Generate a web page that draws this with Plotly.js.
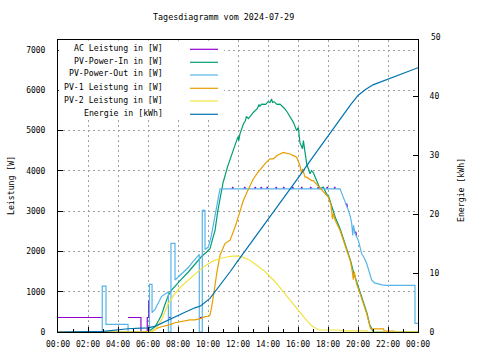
<!DOCTYPE html>
<html><head><meta charset="utf-8">
<script src="https://cdn.plot.ly/plotly-3.0.1.min.js"></script>
<style>html,body{margin:0;padding:0;background:#fff}#chart{width:480px;height:360px}</style>
</head><body><div id="chart"></div>
<script>
// ---- axis ticks ----
const tickHours = [0,2,4,6,8,10,12,14,16,18,20,22,24];
const tickLabels = ["00:00","02:00","04:00","06:00","08:00","10:00","12:00","14:00","16:00","18:00","20:00","22:00","00:00"];
const minorHours = [1,3,5,7,9,11,13,15,17,19,21,23];
const leftTicks = [0,1000,2000,3000,4000,5000,6000,7000];
const rightTicks = [0,10,20,30,40];

// ---- series (hours of day, W / kWh); AC is null where it lies under PV-Power-Out ----
const acT = [0,2.95,null,4.67,5.53,5.53,5.95,5.95,6.05,6.05,6.1,null,7.36,7.53,null,9.42,9.62,null,
 11.6,11.65,11.7,null,12.4,12.45,12.5,null,13.1,13.15,13.2,null,13.5,13.55,13.6,null,13.9,13.95,14.0,null,14.5,14.55,14.6,null,15.0,15.05,15.1,null,
 15.6,15.65,15.7,null,16.2,16.25,16.3,null,16.8,16.85,16.9,null,17.3,17.35,17.4,null,17.9,17.95,18.0,null,18.4,18.45,18.5,null,19.2,19.25,19.3,null,19.8,19.85,19.9];
const acW = [360,360,null,360,360,0,0,360,360,770,770,null,360,360,null,360,360,null,
 3555,3600,3555,null,3555,3600,3555,null,3555,3600,3555,null,3555,3600,3555,null,3555,3600,3555,null,3555,3600,3555,null,3555,3600,3555,null,
 3555,3600,3555,null,3555,3600,3555,null,3555,3600,3555,null,3555,3600,3555,null,3555,3600,3555,null,3555,3600,3555,null,3150,3190,3100,null,2450,2490,2400];

const pvInT = [0,5.95,6.1,6.3,6.47,6.7,6.9,7.1,7.36,7.6,7.8,8.2,8.69,9.1,9.58,9.9,10.13,10.3,10.47,10.65,10.8,11.0,11.3,11.69,11.9,12.0,12.05,12.13,12.36,12.5,12.55,12.7,13.02,13.3,13.4,13.45,13.58,13.85,14.0,14.13,14.24,14.3,14.4,14.6,14.8,15.1,15.3,15.47,15.7,15.91,16.02,16.13,16.3,16.36,16.42,16.47,16.58,16.8,16.9,17.02,17.24,17.47,17.69,17.91,18.02,18.2,18.36,18.5,18.8,19.0,19.24,19.5,19.69,19.8,20.13,20.35,20.58,20.8,20.9,21.0,24];
const pvInW = [0,0,30,80,130,280,420,650,915,1050,1140,1300,1490,1680,1880,1980,2070,2300,2525,3000,3350,3700,4100,4500,4700,4850,4750,4920,5165,5250,5350,5300,5450,5550,5650,5600,5660,5650,5720,5700,5785,5700,5720,5650,5660,5550,5450,5330,5200,5000,5080,4700,4550,4750,4500,4460,4175,3930,4010,3960,3760,3560,3600,3420,3390,3200,2990,2830,2570,2350,2070,1780,1500,1370,1000,750,490,160,100,0,0];

const pvOutT = [0,2.95,2.95,3.2,3.2,4.67,4.67,6.1,6.1,6.27,6.27,6.47,6.9,7.2,7.36,7.36,7.53,7.53,7.8,7.8,8.2,8.69,9.0,9.36,9.42,9.42,9.62,9.62,9.8,9.8,10.02,10.2,10.36,10.5,10.7,10.8,18.8,19.02,19.2,19.36,19.5,19.58,19.65,19.7,19.8,20.02,20.24,20.4,20.58,20.8,20.91,21.1,21.24,21.6,21.91,23.8,23.8,24];
const pvOutW = [0,0,1140,1140,190,190,0,0,1180,1180,480,560,880,960,1000,0,0,2200,2200,1290,1420,1600,1750,1900,1930,0,0,3020,3020,2050,2110,2350,2690,2950,3350,3555,3555,3350,3150,3020,2850,2690,2400,2650,2450,2280,1950,1850,1700,1450,1290,1220,1205,1170,1160,1160,215,215];

const pv1T = [0,5.58,6.3,6.58,6.9,7.36,7.8,8.25,8.8,9.13,9.5,9.8,10.0,10.13,10.25,10.42,10.47,10.6,10.8,11.13,11.47,11.8,12.1,12.36,12.7,13.02,13.3,13.58,13.85,14.13,14.36,14.6,14.8,15.02,15.2,15.47,15.69,15.91,16.13,16.24,16.3,16.47,16.58,16.91,17.02,17.3,17.58,17.8,18.02,18.2,18.3,18.36,18.45,18.8,19.0,19.24,19.5,19.6,19.69,19.75,19.9,20.13,20.35,20.58,20.8,20.85,21.7,21.75,22.4,22.45,24];
const pv1W = [0,0,20,90,130,170,230,265,300,300,330,380,390,420,630,1040,1205,1500,1905,2195,2280,2600,2950,3270,3550,3800,3950,4090,4200,4300,4300,4380,4420,4460,4440,4420,4380,4340,4130,3930,4050,3845,3845,3760,3760,3650,3515,3430,3350,3150,2800,2950,2800,2525,2300,2030,1750,1550,1300,1500,1200,960,720,460,130,80,80,20,20,0,0];

const pv2T = [0,6.13,6.47,6.9,7.36,7.8,8.2,8.69,9.1,9.58,10.0,10.36,10.8,11.2,11.47,11.9,12.3,12.8,13.2,13.69,14.1,14.58,15.0,15.47,15.8,16.13,16.5,16.9,17.36,18.8,18.85,20.58,20.65,24];
const pv2W = [0,0,50,300,710,960,1130,1290,1430,1580,1690,1765,1825,1860,1880,1890,1860,1780,1680,1535,1390,1205,1010,790,640,480,320,160,50,50,30,30,0,0];

const enT = [0,2.95,3.0,3.5,4.0,4.67,5.5,6.0,6.5,6.9,7.5,8.0,8.5,9.13,9.5,10.13,10.5,11,11.5,12,13,14,15,16,17,18,18.5,19,19.5,20,20.5,21,21.5,22,22.5,23,23.5,24];
const enK = [0,0,0.1,0.25,0.4,0.55,0.65,0.7,1.0,1.5,2.2,2.9,3.4,4.1,4.4,5.7,6.9,8.6,10.3,12.1,15.6,18.9,22.4,26.1,29.7,33.3,35.1,36.8,38.5,40.1,41.1,41.9,42.4,42.9,43.4,43.9,44.3,44.8];

const names = ["AC Leistung in [W]","PV-Power-In in [W]","PV-Power-Out in [W]","PV-1 Leistung in [W]","PV-2 Leistung in [W]","Energie in [kWh]"];
const colors = ["#9400d3","#009e73","#56b4e9","#e69f00","#f0e442","#0072b2"];

const FONT = "DejaVu Sans Mono";
function mk(x,y,i,ax){return {x:x,y:y,type:'scatter',mode:'lines',name:names[i],yaxis:ax||'y',connectgaps:false,line:{color:colors[i],width:1.2},hoverinfo:'skip'};}
const data = [mk(acT,acW,0), mk(pvInT,pvInW,1), mk(pvOutT,pvOutW,2), mk(pv1T,pv1W,3), mk(pv2T,pv2W,4), mk(enT,enK,5,'y2')];

// plot frame in px
const L=58,R=418,T=40,B=332;
const px = x => (x-L)/(R-L);
const py = y => (B-y)/(B-T);

const shapes = [{type:'rect',xref:'paper',yref:'paper',x0:px(58.8),x1:px(224),y0:py(118),y1:py(40.8),fillcolor:'#fff',line:{width:0},layer:'above'}];
const annotations = [];
const legY = [49.3,62.3,75,88.3,101,114.3];
names.forEach((n,i)=>{
  shapes.push({type:'line',xref:'paper',yref:'paper',x0:px(190),x1:px(218),y0:py(legY[i]),y1:py(legY[i]),line:{color:colors[i],width:1.2},layer:'above'});
  annotations.push({xref:'paper',yref:'paper',x:px(165),y:py(legY[i]-1.5),xanchor:'right',yanchor:'middle',text:n,showarrow:false,font:{family:FONT,size:8.2,color:'#000'}});
});
annotations.push({xref:'paper',yref:'paper',x:px(223.5),y:py(17),xanchor:'center',yanchor:'middle',text:'Tagesdiagramm vom 2024-07-29',showarrow:false,font:{family:FONT,size:8.4,color:'#000'}});
annotations.push({xref:'paper',yref:'paper',x:px(11),y:py(186),xanchor:'center',yanchor:'middle',textangle:-90,text:'Leistung [W]',showarrow:false,font:{family:FONT,size:8.2,color:'#000'}});
annotations.push({xref:'paper',yref:'paper',x:px(461),y:py(190),xanchor:'center',yanchor:'middle',textangle:-90,text:'Energie [kWh]',showarrow:false,font:{family:FONT,size:8.2,color:'#000'}});
annotations.push({xref:'paper',yref:'paper',x:px(429),y:py(37),xanchor:'left',yanchor:'middle',text:'50',showarrow:false,font:{family:FONT,size:8,color:'#000'}});

const tickfont = {family:FONT,size:8,color:'#000'};
const layout = {
  width:480,height:360,
  margin:{l:L,r:480-R,t:T,b:360-B,pad:0},
  paper_bgcolor:'#fff',plot_bgcolor:'#fff',
  showlegend:false,
  font:{family:FONT,size:8,color:'#000'},
  xaxis:{range:[0,24],tickmode:'array',tickvals:tickHours,ticktext:tickLabels,ticks:'inside',ticklen:5,tickcolor:'#000',tickwidth:1,
    showline:true,linecolor:'#000',linewidth:1,mirror:true,showgrid:true,gridcolor:'#a0a0a0',griddash:'2px,3px',gridwidth:1,zeroline:false,
    tickfont:tickfont,ticklabelstandoff:4,
    minor:{tickmode:'array',tickvals:minorHours,ticks:'inside',ticklen:3,tickcolor:'#000',tickwidth:1,showgrid:false}},
  yaxis:{range:[0,7250],tickmode:'array',tickvals:leftTicks,ticks:'inside',ticklen:5,tickcolor:'#000',tickwidth:1,
    showline:true,linecolor:'#000',linewidth:1,mirror:true,showgrid:true,gridcolor:'#a0a0a0',griddash:'2px,3px',gridwidth:1,zeroline:false,
    tickfont:tickfont,ticklabelstandoff:10},
  yaxis2:{range:[0,49.5],overlaying:'y',side:'right',tickmode:'array',tickvals:rightTicks,ticks:'inside',ticklen:5,tickcolor:'#000',tickwidth:1,
    showline:true,linecolor:'#000',linewidth:1,showgrid:false,zeroline:false,tickfont:tickfont,ticklabelstandoff:9},
  shapes:shapes,annotations:annotations
};
Plotly.newPlot('chart',data,layout,{staticPlot:true,displayModeBar:false});
</script></body></html>
